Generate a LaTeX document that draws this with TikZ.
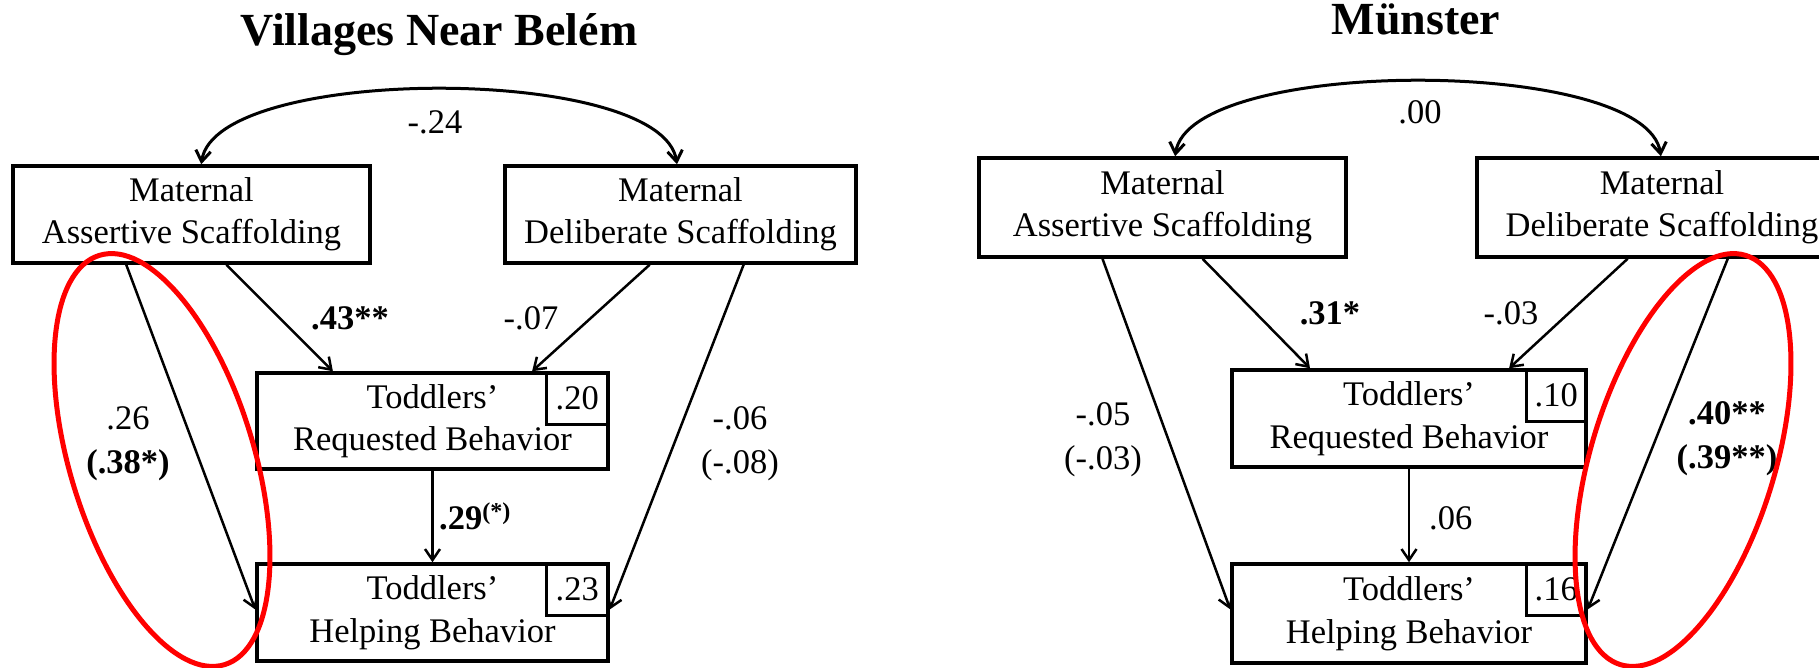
\documentclass[tikz,border=0pt]{standalone}
\usepackage{fontspec}
\setmainfont{Liberation Serif}
\usetikzlibrary{arrows.meta,calc}
\newcommand{\boxfont}{\fontsize{34.5}{42.5}\selectfont}
\newcommand{\lblfont}{\fontsize{34.5}{44}\selectfont}
\newcommand{\titlefont}{\fontsize{46}{54}\selectfont\bfseries}

\begin{document}
\begin{tikzpicture}[x=1pt,y=-1pt,
  box/.style={draw,line width=3.5pt,minimum height=97pt,inner sep=0pt,align=center,font=\boxfont},
  rsq/.style={draw,line width=3pt,minimum width=62pt,minimum height=52pt,inner sep=0pt,anchor=north east,font=\boxfont},
  lbl/.style={inner sep=0pt,align=center,font=\lblfont},
  arr/.style={line width=2.5pt,-{Straight Barb[length=11pt,width=15pt]}},
  cov/.style={line width=3pt,{Straight Barb[length=11pt,width=15pt]}-{Straight Barb[length=11pt,width=15pt]}},
  redring/.style={red,line width=5pt}]
\useasboundingbox[fill=white] (0,0) rectangle (1819,668);

% villages near belem
\node[anchor=base,font=\titlefont] (tleft) at (439,46) {Villages Near Belém};
\node[box,minimum width=357pt] (mas) at (191.5,214.5) {Maternal\\Assertive Scaffolding};
\node[box,minimum width=351pt] (mds) at (680.5,214.5) {Maternal\\Deliberate Scaffolding};
\node[box,minimum width=351pt,minimum height=96pt] (trb) at (432.5,421) {Toddlers’\\Requested Behavior};
\node[rsq] (trbr) at (trb.north east) {.20};
\node[box,minimum width=351pt] (thb) at (432.5,612.5) {Toddlers’\\Helping Behavior};
\node[rsq] (thbr) at (thb.north east) {.23};

\draw[cov] ($(mas.north west)!0.527!(mas.north east)$) .. controls +(15,-100) and +(-15,-100) .. ($(mds.north west)!0.49!(mds.north east)$);
\draw[arr] ($(mas.south west)!0.597!(mas.south east)$) -- ($(trb.north west)!0.219!(trb.north east)$);
\draw[arr] ($(mds.south west)!0.413!(mds.south east)$) -- ($(trb.north west)!0.781!(trb.north east)$);
\draw[arr] ($(mas.south west)!0.319!(mas.south east)$) -- ($(thb.north west)!0.47!(thb.south west)$);
\draw[arr] ($(mds.south west)!0.678!(mds.south east)$) -- ($(thb.north east)!0.47!(thb.south east)$);
\draw[arr] (trb.south) -- (thb.north);

\node[lbl,anchor=base] (lcov) at (435,134) {-.24};
\node[lbl,anchor=base] (lmastrb) at (350,329) {\textbf{.43**}};
\node[lbl,anchor=base] (lmdstrb) at (531,329) {-.07};
\node[lbl] (lmasthb) at (128,444) {.26\\\textbf{(.38*)}};
\node[lbl] (lmdsthb) at (740,444) {-.06\\(-.08)};
\node[lbl,anchor=base west] (ltrbthb) at (439,529) {\textbf{.29\textsuperscript{(*)}}};

% muenster
\node[anchor=base,font=\titlefont] (tright) at (1416,35) {Münster};
\node[box,minimum width=367pt,minimum height=99pt] (mas2) at (1162.5,207.5) {Maternal\\Assertive Scaffolding};
\node[box,minimum width=370pt,minimum height=99pt] (mds2) at (1662,207.5) {Maternal\\Deliberate Scaffolding};
\node[box,minimum width=354pt] (trb2) at (1409,418.5) {Toddlers’\\Requested Behavior};
\node[rsq,minimum width=60pt] (trb2r) at (trb2.north east) {.10};
\node[box,minimum width=354pt,minimum height=99pt] (thb2) at (1409,613.5) {Toddlers’\\Helping Behavior};
\node[rsq,minimum width=60pt] (thb2r) at (thb2.north east) {.16};

\draw[cov] ($(mas2.north west)!0.534!(mas2.north east)$) .. controls +(15,-100) and +(-15,-100) .. ($(mds2.north west)!0.497!(mds2.north east)$);
\draw[arr] ($(mas2.south west)!0.608!(mas2.south east)$) -- ($(trb2.north west)!0.223!(trb2.north east)$);
\draw[arr] ($(mds2.south west)!0.408!(mds2.south east)$) -- ($(trb2.north west)!0.78!(trb2.north east)$);
\draw[arr] ($(mas2.south west)!0.338!(mas2.south east)$) -- ($(thb2.north west)!0.46!(thb2.south west)$);
\draw[arr] ($(mds2.south west)!0.676!(mds2.south east)$) -- ($(thb2.north east)!0.46!(thb2.south east)$);
\draw[arr] (trb2.south) -- (thb2.north);

\node[lbl,anchor=base] (lcov2) at (1420,124) {.00};
\node[lbl,anchor=base] (lmastrb2) at (1330,324) {\textbf{.31*}};
\node[lbl,anchor=base] (lmdstrb2) at (1511,324) {-.03};
\node[lbl] (lmasthb2) at (1103,440) {-.05\\(-.03)};
\node[lbl] (lmdsthb2) at (1727,439) {\textbf{.40**}\\\textbf{(.39**)}};
\node[lbl,anchor=base west] (ltrbthb2) at (1429,529) {.06};

% red rings
\draw[redring,rotate around={17:(162,460)}] (162,460) ellipse [x radius=92, y radius=214];
\draw[redring,rotate around={-17:(1683,460)}] (1683,460) ellipse [x radius=92, y radius=214];
\end{tikzpicture}
\end{document}
